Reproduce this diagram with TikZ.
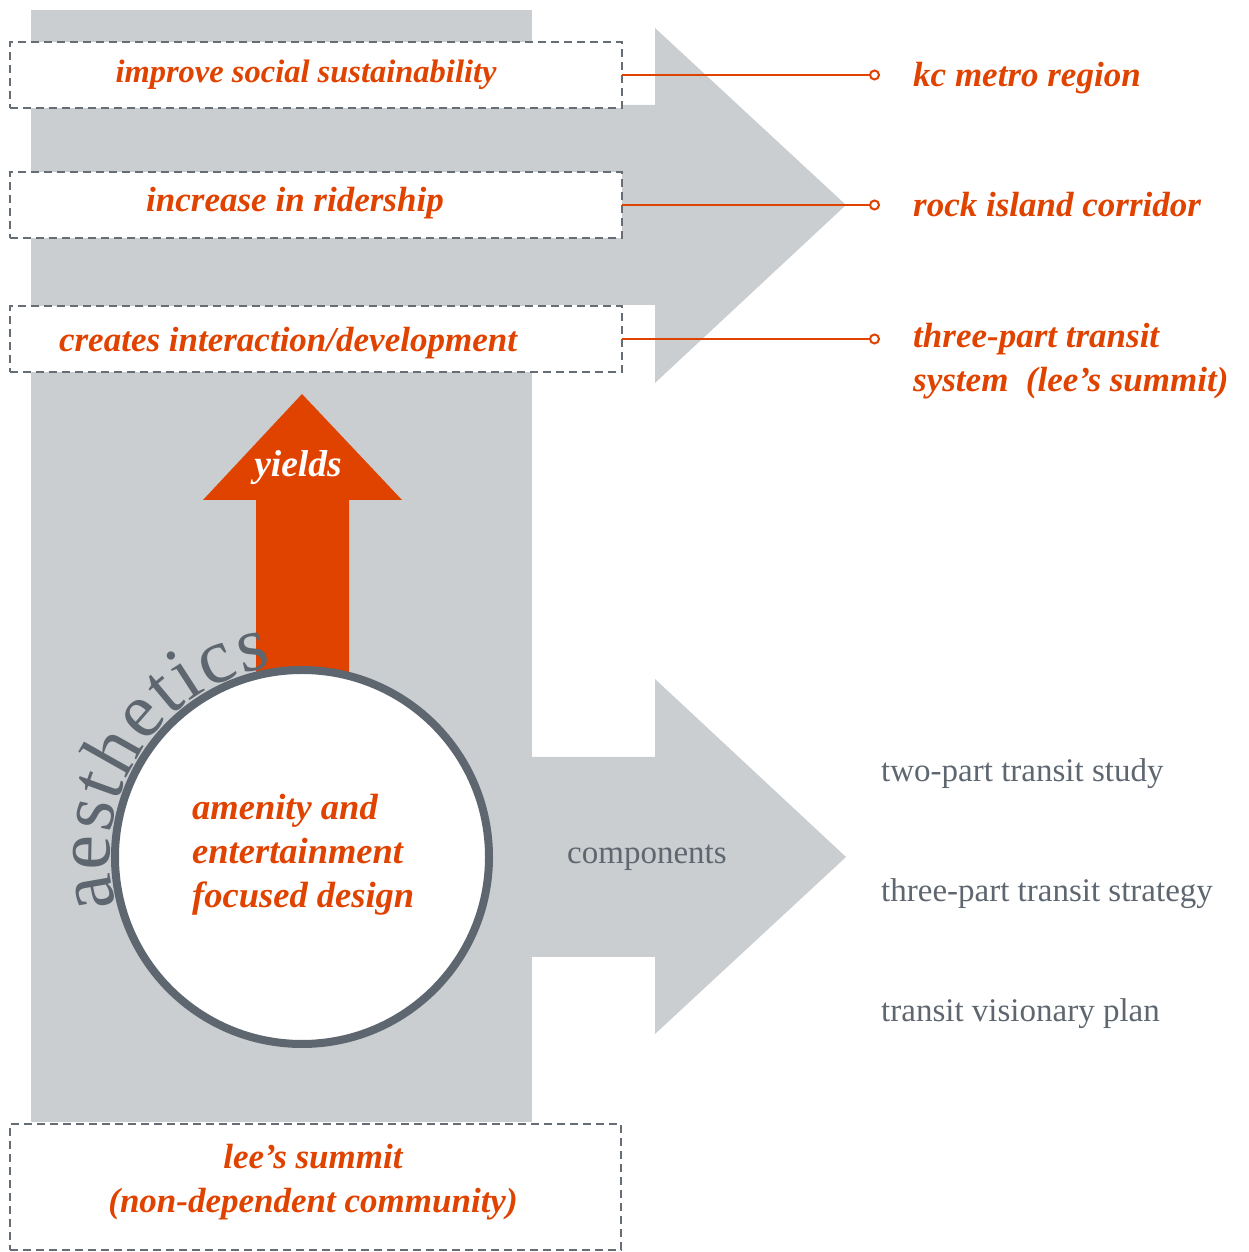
\documentclass[tikz,border=0pt]{standalone}
\usepackage{fontspec}
\setmainfont{Liberation Serif}
\usetikzlibrary{decorations.text,arrows.meta,calc}
\definecolor{bgg}{HTML}{CBCED1}
\definecolor{org}{HTML}{E04300}
\definecolor{dg}{HTML}{5E6670}
\definecolor{dashc}{HTML}{676D75}
\begin{document}
\begin{tikzpicture}[x=1pt,y=1pt,
  dbox/.style={draw=dashc, line width=2.4pt, dash pattern=on 8pt off 5pt, fill=white, inner sep=0pt, outer sep=0pt},
  otext/.style={text=org, font=\fontsize{35}{44}\selectfont\bfseries\itshape, inner sep=0pt},
  gtext/.style={text=dg, font=\fontsize{33}{44}\selectfont, inner sep=0pt, anchor=base west},
  oline/.style={draw=org, line width=2pt, -{Circle[open, length=11pt, width=11pt, line width=2pt]}},
]
\useasboundingbox (0,0) rectangle (1249,1252);
% background column
\fill[bgg] (31,130) rectangle (532,1242);
% big grey arrows
\fill[bgg] (532,1147) -- (655,1147) -- (655,1224) -- (846,1047) -- (655,869) -- (655,947) -- (532,947) -- cycle;
\fill[bgg] (532,495) -- (655,495) -- (655,573) -- (846,395) -- (655,218) -- (655,295) -- (532,295) -- cycle;
% orange arrow
\fill[org] (256,560) -- (256,752) -- (203,752) -- (302,858) -- (402,752) -- (349,752) -- (349,560) -- cycle;
\node[text=white, font=\fontsize{37.5}{40}\selectfont\bfseries\itshape, inner sep=0pt, anchor=base] (yl) at (298,775) {yields};
% circle
\node[circle, draw=dg, line width=8pt, fill=white, minimum size=374pt, inner sep=0pt] (circ) at (302,395) {};
\path[decorate, decoration={text along path, text color=dg, text align=fit to path,
   text={|\fontsize{78}{78}\selectfont|aesthetics}}]
   ($(circ.center)+(195:192)$) arc[start angle=195, end angle=99, radius=192];
\node[otext, font=\fontsize{36.5}{44}\selectfont\bfseries\itshape, align=left, anchor=base west] (ct) at (192,344) {amenity and\\entertainment\\focused design};
% dashed boxes
\node[dbox, minimum width=612pt, minimum height=66pt] (b1) at (316,1177) {};
\node[dbox, minimum width=612pt, minimum height=66pt] (b2) at (316,1047) {};
\node[dbox, minimum width=612pt, minimum height=66pt] (b3) at (316,913) {};
\node[dbox, minimum width=611pt, minimum height=126pt] (b4) at (315.5,65) {};
\node[otext, anchor=base, font=\fontsize{32.5}{44}\selectfont\bfseries\itshape] (t1) at (306,1169) {improve social sustainability};
\node[otext, anchor=base] (t2) at (295,1040) {increase in ridership};
\node[otext, anchor=base] (t3) at (288,900) {creates interaction/development};
\node[otext, anchor=base, align=center] (t4) at (313,39) {lee’s summit\\(non-dependent community)};
% connectors
\coordinate (k1) at (880,1177);
\coordinate (k2) at (880,1047);
\coordinate (k3) at (880,913);
\draw[oline] (b1.east) -- (k1);
\draw[oline] (b2.east) -- (k2);
\draw[oline] (b3.east) -- (k3);
% right labels
\node[otext, anchor=base west] (r1) at (913,1165) {kc metro region};
\node[otext, anchor=base west] (r2) at (913,1035) {rock island corridor};
\node[otext, anchor=base west, align=left] (r3) at (913,860) {three-part transit\\system\ \ (lee’s summit)};
% components
\node[gtext] (cp) at (567,388) {components};
\node[gtext] (c1) at (881,470) {two-part transit study};
\node[gtext] (c2) at (881,350) {three-part transit strategy};
\node[gtext] (c3) at (881,230) {transit visionary plan};
\end{tikzpicture}
\end{document}
